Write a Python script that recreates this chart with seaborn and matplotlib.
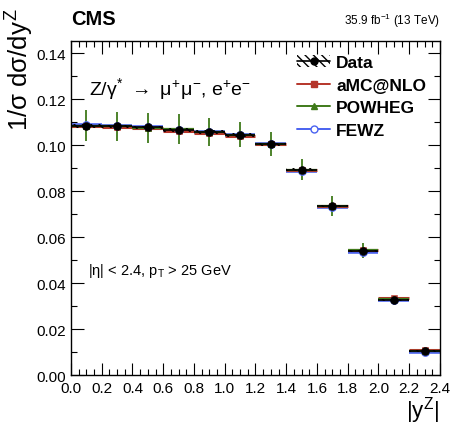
import matplotlib
matplotlib.use("Agg")
import matplotlib.pyplot as plt
from matplotlib.ticker import MultipleLocator, FormatStrFormatter
from matplotlib.lines import Line2D
from matplotlib.patches import Patch
import seaborn as sns
import pandas as pd
import numpy as np

# bin centres in |y^Z|, width 0.2
bin_centers = [0.1, 0.3, 0.5, 0.7, 0.9, 1.1, 1.3, 1.5, 1.7, 1.9, 2.1, 2.3]
bin_width = 0.2

data_vals = [0.1084, 0.1081, 0.1077, 0.1067, 0.1058, 0.1045, 0.1004, 0.0893, 0.0735, 0.0540, 0.0327, 0.0104]
data_errs = [0.0008, 0.0008, 0.0008, 0.0008, 0.0008, 0.0008, 0.0007, 0.0007, 0.0006, 0.0005, 0.0004, 0.0003]
amc_vals = [0.1083, 0.1080, 0.1073, 0.1062, 0.1052, 0.1040, 0.1003, 0.0892, 0.0737, 0.0545, 0.0333, 0.0107]
powheg_vals = [0.1085, 0.1081, 0.1076, 0.1068, 0.1058, 0.1045, 0.1004, 0.0893, 0.0735, 0.0543, 0.0330, 0.0105]
powheg_errs = [0.0067, 0.0065, 0.0065, 0.0065, 0.0060, 0.0055, 0.0052, 0.0047, 0.0043, 0.0033, 0.0015, 0.0010]
fewz_vals = [0.1086, 0.1083, 0.1078, 0.1066, 0.1056, 0.1044, 0.1006, 0.0888, 0.0730, 0.0535, 0.0325, 0.0100]

col_amc = "#b5352a"
col_powheg = "#3f7a1a"
col_fewz = "#4a62f0"

sns.set_style("ticks")
plt.rcParams['font.family'] = ['Liberation Sans', 'DejaVu Sans']
plt.rcParams['mathtext.fontset'] = 'custom'
plt.rcParams['mathtext.rm'] = 'Liberation Sans'
plt.rcParams['mathtext.it'] = 'Liberation Sans'
for key in ["text.color", "axes.labelcolor", "xtick.color", "ytick.color", "axes.edgecolor"]:
    plt.rcParams[key] = "black"

fig = plt.figure(figsize=(4.55, 4.39), dpi=100)
ax = fig.add_axes([0.156, 0.1435, 0.811, 0.7605])

df = pd.DataFrame({"y": bin_centers, "data": data_vals, "amc": amc_vals,
                   "powheg": powheg_vals, "fewz": fewz_vals})
lo = np.array(bin_centers) - bin_width / 2
hi = np.array(bin_centers) + bin_width / 2

# model predictions as horizontal bin lines
ax.hlines(fewz_vals, lo, hi, color=col_fewz, lw=2.6, zorder=2)
ax.hlines(amc_vals, lo, hi, color=col_amc, lw=2.2, zorder=2)
ax.hlines(powheg_vals, lo, hi, color=col_powheg, lw=1.6, zorder=2)
ax.errorbar(bin_centers, powheg_vals, yerr=powheg_errs, fmt="none",
            ecolor=col_powheg, elinewidth=1.3, capsize=0, zorder=3)

sns.scatterplot(data=df, x="y", y="fewz", ax=ax, marker="o", s=28,
                facecolor="white", edgecolor=col_fewz, linewidth=1, zorder=4)
sns.scatterplot(data=df, x="y", y="amc", ax=ax, marker="s", s=22,
                color=col_amc, edgecolor=col_amc, zorder=4)
sns.scatterplot(data=df, x="y", y="powheg", ax=ax, marker="^", s=20,
                color=col_powheg, edgecolor=col_powheg, zorder=4)

# data: hatched uncertainty band + points
ax.bar(bin_centers, [2 * e for e in data_errs],
       bottom=[v - e for v, e in zip(data_vals, data_errs)],
       width=bin_width, fill=False, hatch="\\\\\\\\", linewidth=0,
       edgecolor="black", zorder=5)
ax.hlines(data_vals, lo, hi, color="black", lw=1.2, zorder=5)
sns.scatterplot(data=df, x="y", y="data", ax=ax, marker="o", s=32,
                color="black", edgecolor="black", zorder=6)

ax.set_xlim(0, 2.4)
ax.set_ylim(0, 0.1452)
ax.xaxis.set_major_locator(MultipleLocator(0.2))
ax.xaxis.set_minor_locator(MultipleLocator(0.05))
ax.yaxis.set_major_locator(MultipleLocator(0.02))
ax.yaxis.set_minor_locator(MultipleLocator(0.01))
ax.xaxis.set_major_formatter(FormatStrFormatter("%.1f"))
ax.yaxis.set_major_formatter(FormatStrFormatter("%.2f"))
ax.tick_params(which="both", direction="in", top=True, right=True,
               labelsize=11, width=0.8, color="black")
ax.tick_params(which="major", length=9)
ax.tick_params(which="minor", length=4.5)
ax.tick_params(axis="x", pad=4)
for s in ax.spines.values():
    s.set_linewidth(1.0)

ax.set_xlabel("")
ax.set_ylabel("")
fig.text(0.967, 0.03, r"$|y^{Z}|$", ha="right", va="bottom", fontsize=16)
fig.text(0.008, 0.982, r"1/$\sigma$ d$\sigma$/d$y^{Z}$", rotation=90,
         ha="left", va="top", fontsize=18.5)

fig.text(0.156, 0.935, "CMS", ha="left", va="bottom", fontsize=14.5,
         fontweight="bold")
fig.text(0.967, 0.932, r"35.9 fb$^{-1}$ (13 TeV)", ha="right", va="bottom",
         fontsize=8.5)

ax.text(0.05, 0.86, r"Z/$\gamma^{*}$ $\rightarrow$ $\mu^{+}\mu^{-}$, e$^{+}$e$^{-}$",
        transform=ax.transAxes, fontsize=14, ha="left", va="center")
ax.text(0.045, 0.315, r"|$\eta$| < 2.4, p$_{T}$ > 25 GeV",
        transform=ax.transAxes, fontsize=10.5, ha="left", va="center")

handles = [
    (Patch(facecolor="none", hatch="\\\\\\\\", edgecolor="black", linewidth=0),
     Line2D([], [], color="black", marker="o", ms=5, lw=1.2)),
    Line2D([], [], color=col_amc, marker="s", ms=5, lw=1.4),
    Line2D([], [], color=col_powheg, marker="^", ms=5, lw=1.4),
    Line2D([], [], color=col_fewz, marker="o", ms=5, mfc="white", lw=1.4),
]
leg = ax.legend(handles, ["Data", "aMC@NLO", "POWHEG", "FEWZ"],
                loc="upper right", bbox_to_anchor=(1.005, 1.005),
                frameon=False, handlelength=1.9,
                handletextpad=0.35, labelspacing=0.42,
                prop={"weight": "bold", "size": 12.5})

fig.savefig("out.png", dpi=100)
